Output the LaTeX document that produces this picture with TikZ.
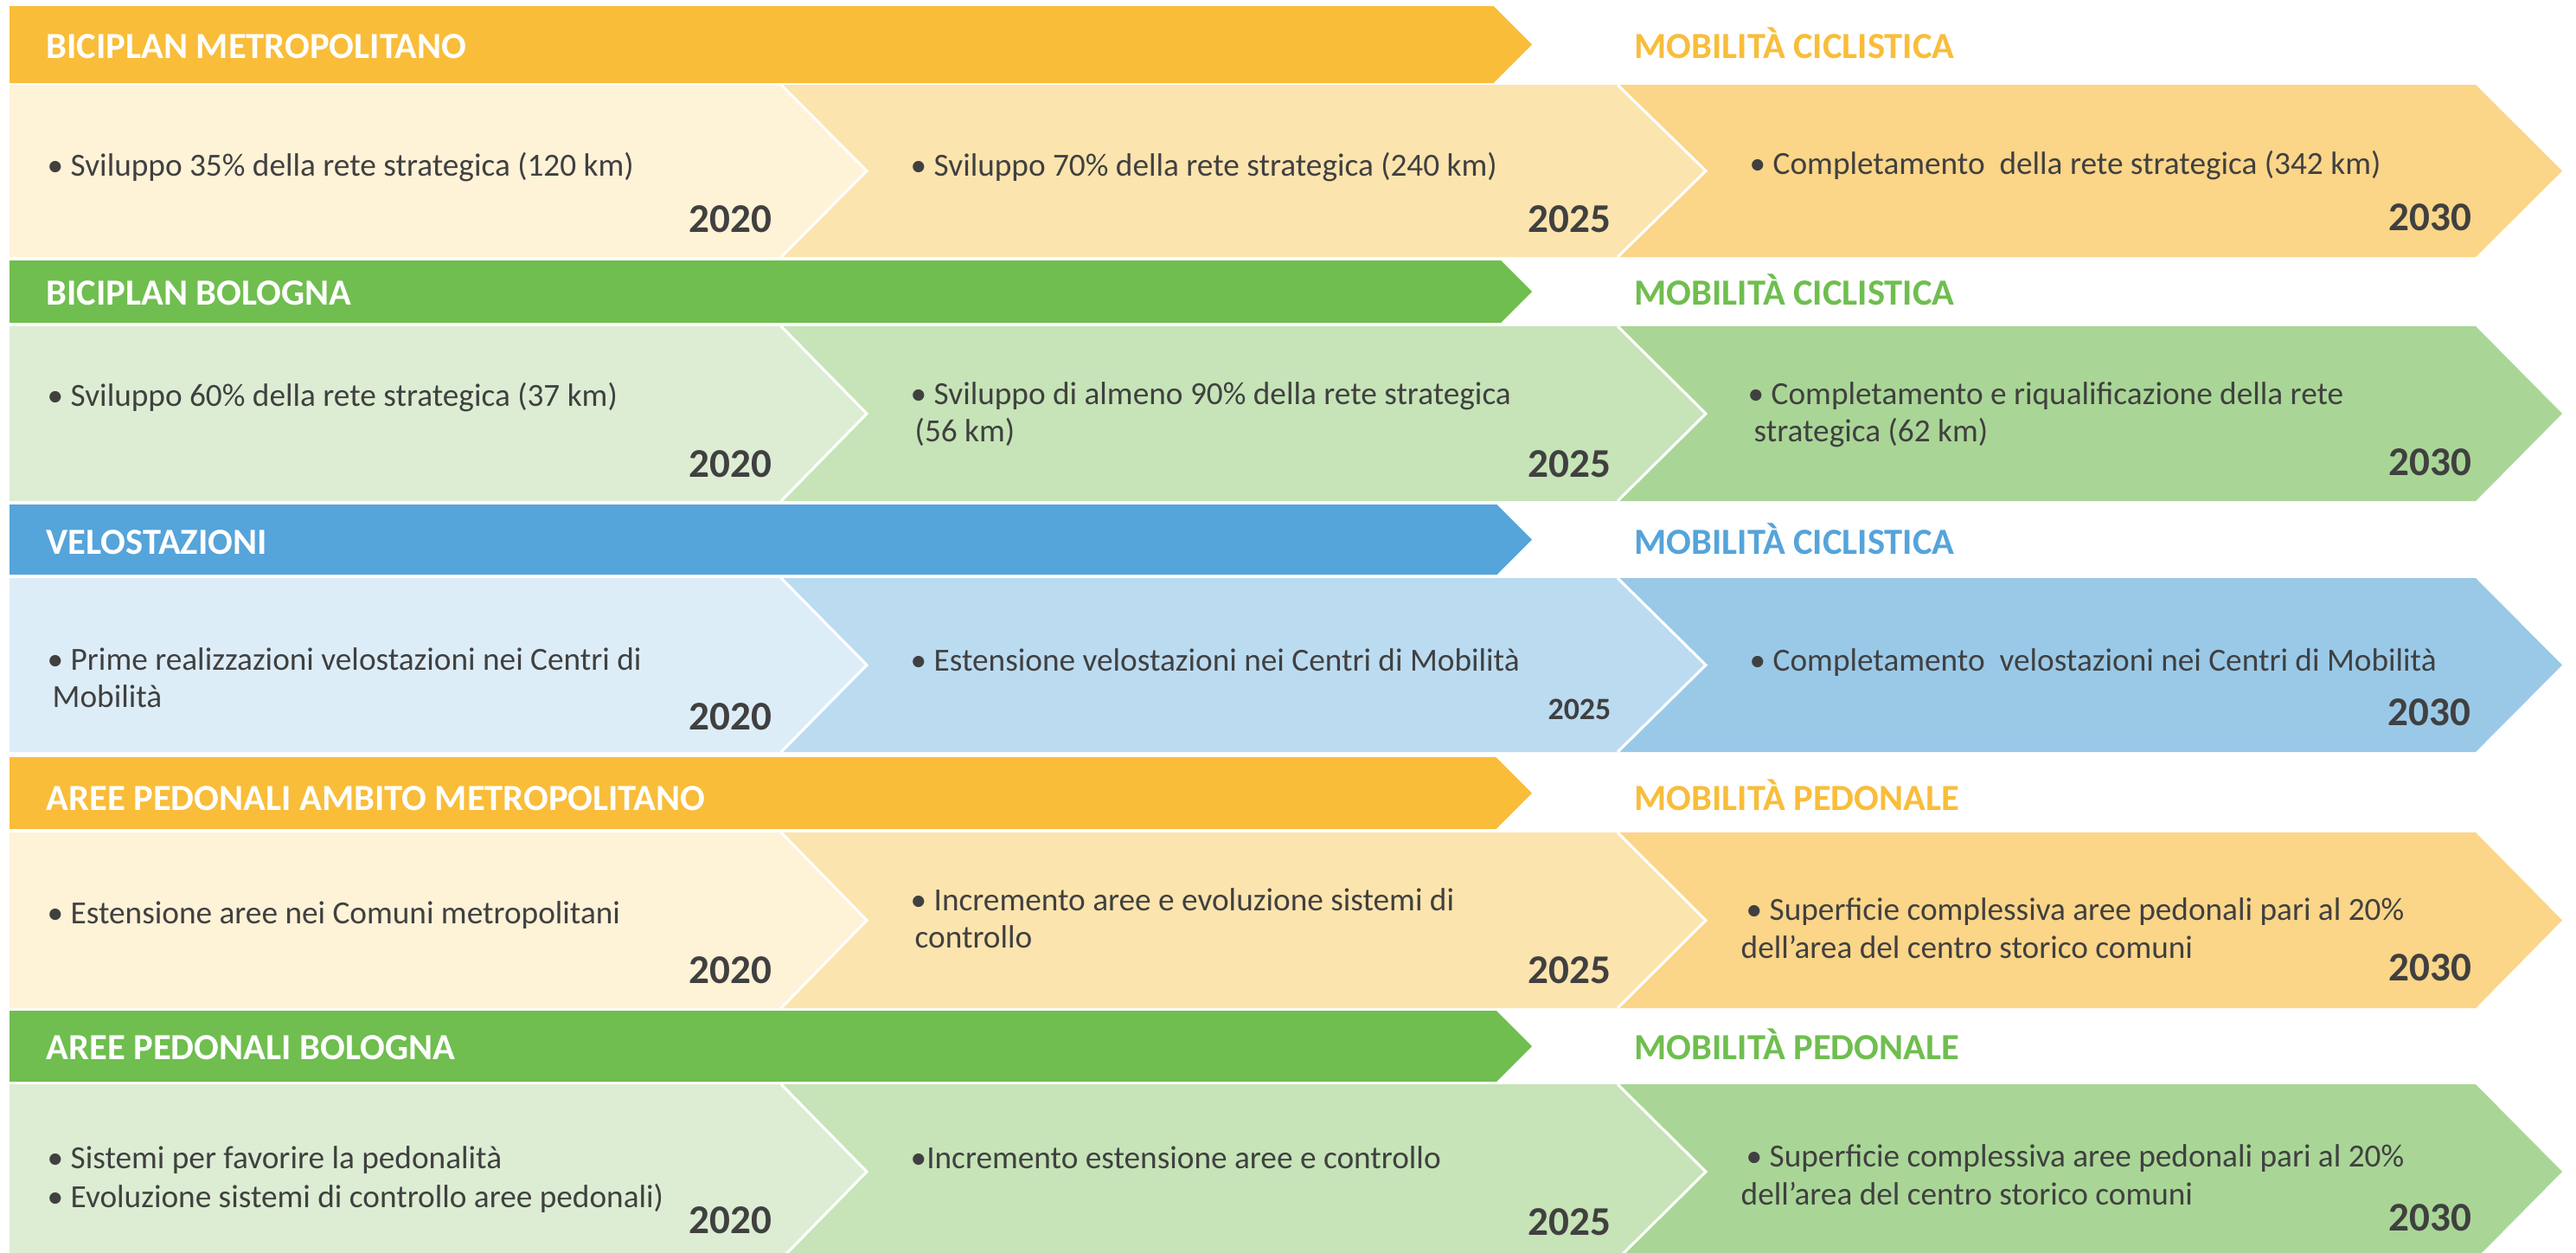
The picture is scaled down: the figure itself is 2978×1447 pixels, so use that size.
\documentclass[tikz,border=0pt]{standalone}
\usepackage{fontspec}
\setmainfont{Carlito}
\definecolor{txt}{HTML}{404040}
\definecolor{orH}{HTML}{F9BD3A}
\definecolor{orA}{HTML}{FEF2D7}
\definecolor{orB}{HTML}{FCE4AE}
\definecolor{orC}{HTML}{FBD588}
\definecolor{grH}{HTML}{6FBE4F}
\definecolor{grA}{HTML}{DCEDD3}
\definecolor{grB}{HTML}{C6E4B7}
\definecolor{grC}{HTML}{A9D696}
\definecolor{blH}{HTML}{55A4DA}
\definecolor{blA}{HTML}{DDEDF8}
\definecolor{blB}{HTML}{BBDBF1}
\definecolor{blC}{HTML}{9AC9E8}
\newcommand\chevrow[8]{%
  \pgfmathsetmacro\cvHm{(#1+#2)/2}%
  \pgfmathsetmacro\cvHx{1771-(#2-#1)/2}%
  \pgfmathsetmacro\cvBm{(#3+#4)/2}%
  \fill[#5] (11,#1) -- (\cvHx,#1) -- (1771,\cvHm) -- (\cvHx,#2) -- (11,#2) -- cycle;
  \fill[#8] (1870,#3) -- (2862,#3) -- (2962,\cvBm) -- (2862,#4) -- (1870,#4) -- (1972,\cvBm) -- cycle;
  \fill[#7] (903,#3) -- (1870,#3) -- (1972,\cvBm) -- (1870,#4) -- (903,#4) -- (1002,\cvBm) -- cycle;
  \fill[#6] (11,#3) -- (903,#3) -- (1002,\cvBm) -- (903,#4) -- (11,#4) -- cycle;
  \draw[sep] (903,#3) -- (1002,\cvBm) -- (903,#4);
  \draw[sep] (1870,#3) -- (1972,\cvBm) -- (1870,#4);
}
\tikzset{
  sep/.style={draw=white, line width=0.9pt},
  hdr/.style={font=\bfseries\fontsize{12.1}{14}\selectfont, text=white, anchor=base west, inner sep=0pt},
  lbl/.style={font=\bfseries\fontsize{12.1}{14}\selectfont, anchor=base west, inner sep=0pt},
  bodytxt/.style={font=\fontsize{10.6}{13}\selectfont, text=txt, anchor=base west, inner sep=0pt},
  yr/.style={font=\bfseries\fontsize{13.4}{16}\selectfont, text=txt, anchor=base east, inner sep=0pt},
  yrs/.style={font=\bfseries\fontsize{10.2}{12}\selectfont, text=txt, anchor=base east, inner sep=0pt},
}
\begin{document}
\begin{tikzpicture}[x=0.01cm, y=-0.01cm]
\useasboundingbox (0,0) rectangle (2978,1447);
\clip (0,0) rectangle (2978,1447);
\fill[white] (0,0) rectangle (2978,1447);

% ---------- Row 1
\chevrow{7}{96}{98}{297}{orH}{orA}{orB}{orC}
\node[hdr] (h1) at (53,67) {BICIPLAN METROPOLITANO};
\node[lbl, text=orH] (l1) at (1889,67) {MOBILITÀ CICLISTICA};
\node[bodytxt] (a1) at (54,203) {• Sviluppo 35\% della rete strategica (120 km)};
\node[bodytxt] (b1) at (1052,203) {• Sviluppo 70\% della rete strategica (240 km)};
\node[bodytxt] (c1) at (2022,201) {• Completamento\ \ della rete strategica (342 km)};
\node[yr] (ya1) at (893,268) {2020};
\node[yr] (yb1) at (1863,268) {2025};
\node[yr] (yc1) at (2858,266) {2030};

% ---------- Row 2
\chevrow{301}{373}{377}{579}{grH}{grA}{grB}{grC}
\node[hdr] (h2) at (53,352) {BICIPLAN BOLOGNA};
\node[lbl, text=grH] (l2) at (1889,352) {MOBILITÀ CICLISTICA};
\node[bodytxt] (a2) at (54,469) {• Sviluppo 60\% della rete strategica (37 km)};
\node[bodytxt] (b2) at (1052,467) {• Sviluppo di almeno 90\% della rete strategica};
\node[bodytxt] (b2x) at (1057,510) {(56 km)};
\node[bodytxt] (c2) at (2020,467) {• Completamento e riqualificazione della rete};
\node[bodytxt] (c2x) at (2027,510) {strategica (62 km)};
\node[yr] (ya2) at (893,551) {2020};
\node[yr] (yb2) at (1863,551) {2025};
\node[yr] (yc2) at (2858,549) {2030};

% ---------- Row 3
\chevrow{583}{664}{668}{869}{blH}{blA}{blB}{blC}
\node[hdr] (h3) at (53,640) {VELOSTAZIONI};
\node[lbl, text=blH] (l3) at (1889,640) {MOBILITÀ CICLISTICA};
\node[bodytxt] (a3) at (54,774) {• Prime realizzazioni velostazioni nei Centri di};
\node[bodytxt] (a3x) at (60,817) {Mobilità};
\node[bodytxt] (b3) at (1052,775) {• Estensione velostazioni nei Centri di Mobilità};
\node[bodytxt] (c3) at (2022,775) {• Completamento\ \ velostazioni nei Centri di Mobilità};
\node[yr] (ya3) at (893,843) {2020};
\node[yrs] (yb3) at (1863,831) {2025};
\node[yr] (yc3) at (2857,838) {2030};

% ---------- Row 4
\chevrow{875}{958}{962}{1165}{orH}{orA}{orB}{orC}
\node[hdr] (h4) at (53,936) {AREE PEDONALI AMBITO METROPOLITANO};
\node[lbl, text=orH] (l4) at (1889,936) {MOBILITÀ PEDONALE};
\node[bodytxt] (a4) at (54,1067) {• Estensione aree nei Comuni metropolitani};
\node[bodytxt] (b4) at (1052,1052) {• Incremento aree e evoluzione sistemi di};
\node[bodytxt] (b4x) at (1057,1095) {controllo};
\node[bodytxt] (c4) at (2018,1063) {• Superficie complessiva aree pedonali pari al 20\%};
\node[bodytxt] (c4x) at (2012,1107) {dell’area del centro storico comuni};
\node[yr] (ya4) at (893,1136) {2020};
\node[yr] (yb4) at (1863,1136) {2025};
\node[yr] (yc4) at (2858,1133) {2030};

% ---------- Row 5
\chevrow{1168}{1250}{1253}{1455}{grH}{grA}{grB}{grC}
\node[hdr] (h5) at (53,1224) {AREE PEDONALI BOLOGNA};
\node[lbl, text=grH] (l5) at (1889,1224) {MOBILITÀ PEDONALE};
\node[bodytxt] (a5) at (54,1350) {• Sistemi per favorire la pedonalità};
\node[bodytxt] (a5x) at (54,1395) {• Evoluzione sistemi di controllo aree pedonali)};
\node[bodytxt] (b5) at (1052,1350) {•Incremento estensione aree e controllo};
\node[bodytxt] (c5) at (2018,1348) {• Superficie complessiva aree pedonali pari al 20\%};
\node[bodytxt] (c5x) at (2012,1392) {dell’area del centro storico comuni};
\node[yr] (ya5) at (893,1425) {2020};
\node[yr] (yb5) at (1863,1427) {2025};
\node[yr] (yc5) at (2858,1422) {2030};
\end{tikzpicture}
\end{document}
